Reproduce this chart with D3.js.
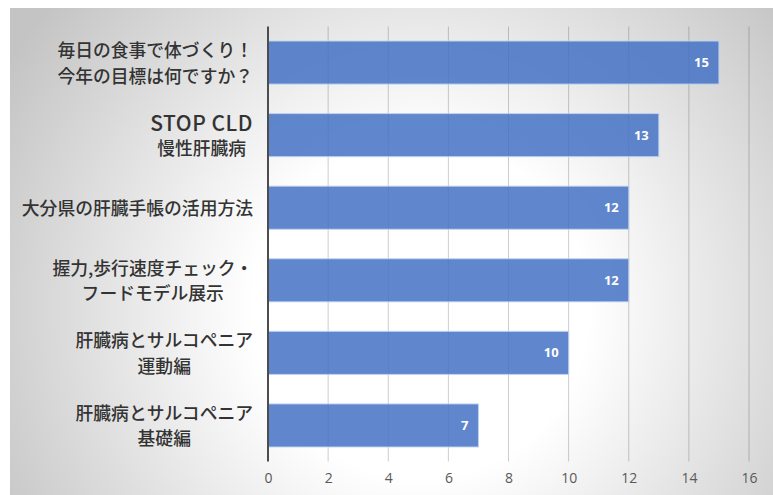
<!DOCTYPE html>
<html>
<head>
<meta charset="utf-8">
<script src="https://cdn.jsdelivr.net/npm/d3@7"></script>
<style>
  body { margin: 0; background: #fff; }
  svg { display: block; }
</style>
</head>
<body>
<div id="chart"></div>
<script>
// Chart data, top bar first
const CATEGORIES = [
  ["毎日の食事で体づくり！", "今年の目標は何ですか？"],
  ["STOP CLD", "慢性肝臓病"],
  ["大分県の肝臓手帳の活用方法"],
  ["握力,歩行速度チェック・", "フードモデル展示"],
  ["肝臓病とサルコペニア", "運動編"],
  ["肝臓病とサルコペニア", "基礎編"]
];
const VALUES = [15, 13, 12, 12, 10, 7];
const X_TICKS = [0, 2, 4, 6, 8, 10, 12, 14, 16];

// frame and plot area
const FRAME_WIDTH = 773;
const FRAME_HEIGHT = 495;
const PLOT = {left: 268, right: 749, top: 26.5, bottom: 461.5};

const FRAME = d3.select("#chart")
  .append("svg")
    .attr("width", FRAME_WIDTH)
    .attr("height", FRAME_HEIGHT);

// radial grey background
const defs = FRAME.append("defs");
const grad = defs.append("radialGradient")
  .attr("id", "bg")
  .attr("gradientUnits", "userSpaceOnUse")
  .attr("cx", 420).attr("cy", 310).attr("r", 480);
grad.append("stop").attr("offset", "0%").attr("stop-color", "#ffffff");
grad.append("stop").attr("offset", "35%").attr("stop-color", "#ffffff");
grad.append("stop").attr("offset", "100%").attr("stop-color", "#c4c4c4");

FRAME.append("rect")
  .attr("x", 10).attr("y", 8)
  .attr("width", FRAME_WIDTH - 10)
  .attr("height", FRAME_HEIGHT - 8)
  .attr("fill", "url(#bg)");

// scales
const X_SCALE = d3.scaleLinear()
  .domain([0, 16])
  .range([PLOT.left, PLOT.right]);

const Y_SCALE = d3.scaleBand()
  .domain(d3.range(VALUES.length))
  .range([PLOT.top, PLOT.bottom])
  .paddingInner(0.407)
  .paddingOuter(0.2);

// vertical gridlines
FRAME.append("g")
  .selectAll("line")
  .data(X_TICKS.slice(1))
  .enter()
  .append("line")
    .attr("x1", d => X_SCALE(d))
    .attr("x2", d => X_SCALE(d))
    .attr("y1", PLOT.top)
    .attr("y2", PLOT.bottom)
    .attr("stroke", "rgba(0,0,0,0.2)")
    .attr("stroke-width", 1);

// bars
FRAME.append("g")
  .selectAll("rect")
  .data(VALUES)
  .enter()
  .append("rect")
    .attr("x", X_SCALE(0))
    .attr("y", (d, i) => Y_SCALE(i))
    .attr("width", d => X_SCALE(d) - X_SCALE(0))
    .attr("height", Y_SCALE.bandwidth())
    .attr("fill", "rgba(68,114,196,0.85)")
    .attr("stroke", "rgba(190,210,240,0.9)")
    .attr("stroke-width", 1);

// value labels inside the bar ends
FRAME.append("g")
  .selectAll("text")
  .data(VALUES)
  .enter()
  .append("text")
    .attr("x", d => X_SCALE(d) - 10)
    .attr("y", (d, i) => Y_SCALE(i) + Y_SCALE.bandwidth() / 2)
    .attr("dy", "0.35em")
    .attr("text-anchor", "end")
    .attr("fill", "#ffffff")
    .style("font-family", "'Open Sans', 'DejaVu Sans', sans-serif")
    .style("font-size", "13px")
    .style("font-weight", 700)
    .text(d => d);

// x axis tick labels
const xAxis = FRAME.append("g")
  .attr("transform", "translate(0," + PLOT.bottom + ")")
  .call(d3.axisBottom(X_SCALE).tickValues(X_TICKS).tickSize(0).tickPadding(12));
xAxis.select(".domain").remove();
xAxis.selectAll("text")
  .attr("fill", "#595959")
  .style("font-family", "'Open Sans', 'DejaVu Sans', sans-serif")
  .style("font-size", "14px");

// category axis line
FRAME.append("line")
  .attr("x1", X_SCALE(0)).attr("x2", X_SCALE(0))
  .attr("y1", PLOT.top).attr("y2", PLOT.bottom)
  .attr("stroke", "#4d4d4d")
  .attr("stroke-width", 2);

// category labels: block right aligned, lines centred within block
const LABEL_RIGHT = 253;
const LINE_GAP = 25.5;
CATEGORIES.forEach((lines, i) => {
  const cy = Y_SCALE(i) + Y_SCALE.bandwidth() / 2 + 1;
  const g = FRAME.append("g");
  const texts = lines.map((t, j) => g.append("text")
    .attr("y", cy + (j - (lines.length - 1) / 2) * LINE_GAP)
    .attr("dy", "0.35em")
    .attr("text-anchor", "middle")
    .attr("fill", "#333333")
    .style("font-family", "'Noto Sans CJK JP', sans-serif")
    .style("font-size", t === "STOP CLD" ? "21px" : "17.8px")
    .style("font-weight", 500)
    .style("letter-spacing", t === "STOP CLD" ? "0.5px" : "0px")
    .text(t));
  const maxW = d3.max(texts, t => t.node().getComputedTextLength());
  texts.forEach(t => t.attr("x", LABEL_RIGHT - maxW / 2));
});
</script>
</body>
</html>
